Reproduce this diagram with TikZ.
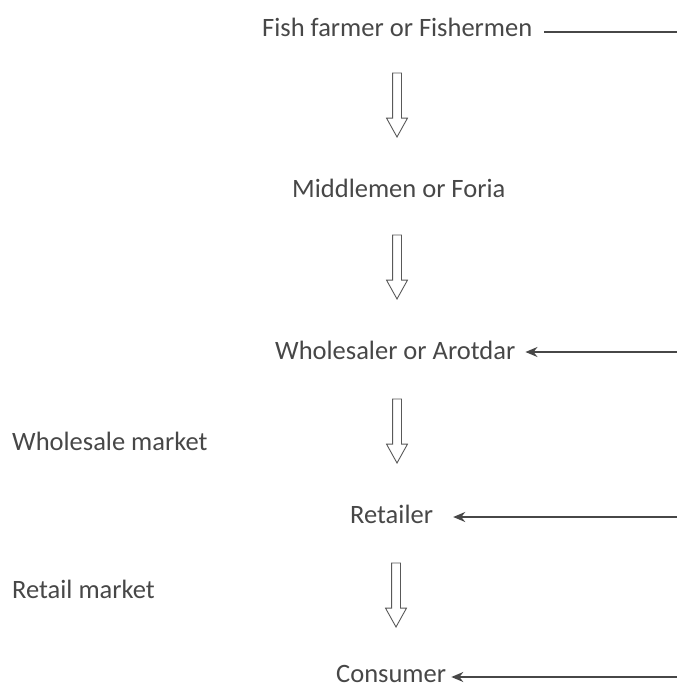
\documentclass[tikz,border=0pt]{standalone}
\usepackage{fontspec}
\setmainfont{Carlito}
\usepackage{tikz}
\usetikzlibrary{shapes.arrows, arrows.meta}

\begin{document}
\begin{tikzpicture}[x=1pt,y=-1pt]
	\tikzstyle{every node} = [inner sep=0pt,text=black!72,font=\fontsize{26.5}{30}\selectfont]
	\tikzstyle{stage} = [anchor=base west]
	\tikzstyle{flow} = [single arrow,draw=black!65,line width=0.9pt,rotate=-90,minimum height=64pt,minimum width=20pt,inner xsep=0pt,inner ysep=4pt,single arrow head extend=6pt,single arrow tip angle=58]
	\tikzstyle{feed} = [draw=black!72,line width=1.7pt]
	\useasboundingbox (0,0) rectangle (677,688);
	\node[stage]	(fish)		at (262,36)		{Fish farmer or Fishermen};
	\node[stage]	(mid)		at (292,197)	{Middlemen or Foria};
	\node[stage]	(whole)		at (275,359)	{Wholesaler or Arotdar};
	\node[stage]	(retail)	at (350,523)	{Retailer};
	\node[stage]	(cons)		at (336,682)	{Consumer};
	\node[stage]	(wmkt)		at (12,450)		{Wholesale market};
	\node[stage]	(rmkt)		at (12,598)		{Retail market};
	% hollow arrows down the chain
	\node[flow]	(d1) at (397,101) {};
	\node[flow]	(d2) at (397,263) {};
	\node[flow]	(d3) at (397,427) {};
	\node[flow]	(d4) at (396,591) {};
	% lines from the right edge
	\coordinate (e1) at (677,32);
	\coordinate (e2) at (677,352);
	\coordinate (e3) at (677,517);
	\coordinate (e4) at (677,677);
	\draw[feed,shorten <=12pt]	(e1 -| fish.east) -- (e1);
	\draw[feed,-{Stealth[length=12pt,width=10pt]},shorten >=10pt]	(e2) -- (e2 -| whole.east);
	\draw[feed,-{Stealth[length=12pt,width=10pt]},shorten >=20pt]	(e3) -- (e3 -| retail.east);
	\draw[feed,-{Stealth[length=12pt,width=10pt]},shorten >=5pt]	(e4) -- (e4 -| cons.east);
\end{tikzpicture}
\end{document}
